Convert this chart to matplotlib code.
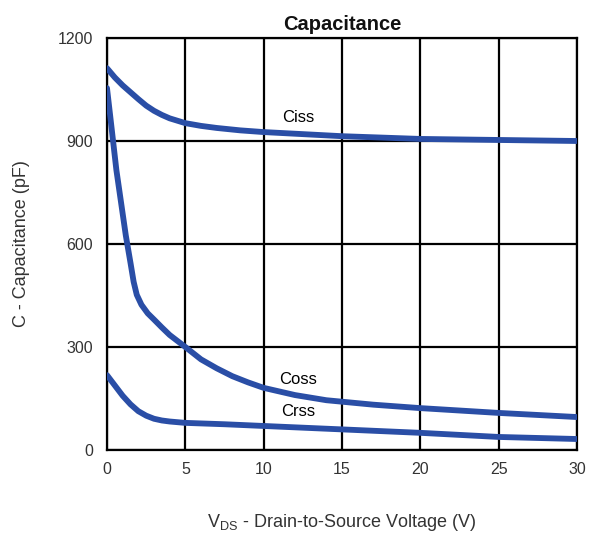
import matplotlib
matplotlib.use("Agg")
import matplotlib.pyplot as plt

plt.rcParams['font.family'] = ['Liberation Sans', 'DejaVu Sans']
plt.rcParams['mathtext.default'] = 'regular'

vds_ciss = [0, 0.5, 1, 1.5, 2, 2.5, 3, 3.5, 4, 5, 6, 7, 8.5, 10, 12.5, 15, 20, 25, 30]
ciss = [1112, 1085, 1062, 1042, 1022, 1003, 988, 976, 966, 952, 944, 938, 931, 926, 920, 914, 906, 903, 900]

vds_coss = [0, 0.3, 0.6, 0.9, 1.2, 1.5, 1.7, 1.9, 2.2, 2.6, 3.0, 3.5, 4, 5, 6, 7, 8, 9, 10, 12, 14, 17, 20, 25, 30]
coss = [1054, 935, 815, 720, 625, 545, 490, 452, 423, 398, 380, 357, 335, 300, 264, 238, 215, 197, 181, 160, 145, 132, 122, 108, 96]

vds_crss = [0, 0.5, 1, 1.5, 2, 2.5, 3, 3.5, 4, 5, 7.5, 10, 15, 20, 25, 30]
crss = [218, 188, 158, 133, 113, 100, 91, 86, 83, 79, 75, 70, 60, 50, 38, 32]

labels = ["Ciss", "Coss", "Crss"]
label_x = [12.2, 12.2, 12.2]
label_y = [968, 204, 111]

xticks = [0, 5, 10, 15, 20, 25, 30]
yticks = [0, 300, 600, 900, 1200]

blue = '#2a4ea6'
txt = '#333333'

fig = plt.figure(figsize=(5.89, 5.38), dpi=100)
ax = fig.add_axes([107/589, 1 - 450/538, (577 - 107)/589, (450 - 38)/538])

for x, y in [(vds_ciss, ciss), (vds_coss, coss), (vds_crss, crss)]:
    ax.plot(x, y, color=blue, lw=4.2, solid_capstyle='round', solid_joinstyle='round', zorder=3)

for t, lx, ly in zip(labels, label_x, label_y):
    ax.text(lx, ly, t, fontsize=12, ha='center', va='center', color='black', zorder=4)

ax.set_xlim(0, 30)
ax.set_ylim(0, 1200)
ax.set_xticks(xticks)
ax.set_yticks(yticks)
ax.grid(True, color='black', lw=1.6)
for s in ax.spines.values():
    s.set_linewidth(1.6)
ax.tick_params(length=0, labelsize=11.5, labelcolor=txt)
ax.tick_params(axis='x', pad=9)
ax.tick_params(axis='y', pad=10)

ax.set_title('Capacitance', fontsize=14.5, fontweight='bold', pad=6, color='#111111')
ax.set_ylabel('C - Capacitance (pF)', fontsize=13, labelpad=20, color=txt)
ax.set_xlabel('V$_{DS}$ - Drain-to-Source Voltage (V)', fontsize=13, labelpad=25, color=txt)

fig.savefig('out.png', dpi=100)
